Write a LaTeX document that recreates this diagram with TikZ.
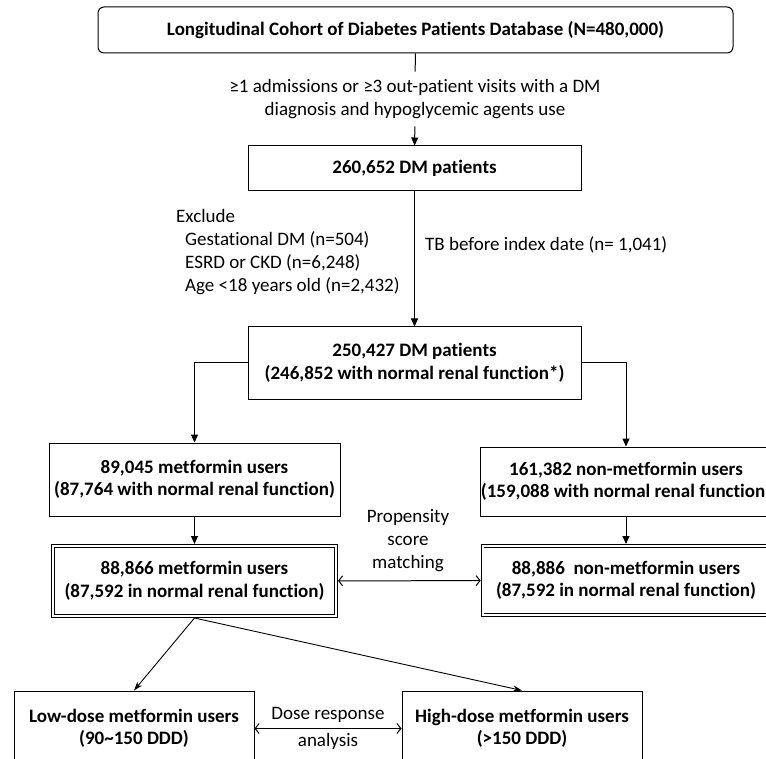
\documentclass[tikz,border=0pt]{standalone}
\usepackage{fontspec}
\setmainfont[Ligatures=NoCommon]{Carlito}
\usetikzlibrary{arrows.meta,positioning}

\tikzset{
  box/.style={draw, line width=1pt, align=center, font=\fontsize{19}{22.5}\selectfont\bfseries, inner sep=0pt},
  dbox/.style={box, double, double distance=2pt, line width=0.8pt, outer sep=1.8pt},
  note/.style={align=center, inner sep=0pt},
  arr/.style={line width=1pt, -{Triangle[length=8pt,width=7pt]}},
  darr/.style={line width=1pt, {Straight Barb[length=4pt,width=10pt]}-{Straight Barb[length=4pt,width=10pt]}},
  diag/.style={line width=0.9pt, -{Stealth[length=9pt,width=6pt]}},
}

\begin{document}
\begin{tikzpicture}[x=1pt, y=-1pt, font=\fontsize{19}{22.5}\selectfont]
  \useasboundingbox (0,0) rectangle (766,759);
  \fill[white] (0,0) rectangle (766,759);
  \clip (0,0) rectangle (766,759);

  % selection of the cohort
  \node[box, rounded corners=6pt, minimum width=635pt, minimum height=46pt] (db) at (415.5,30)
    {Longitudinal Cohort of Diabetes Patients Database (N=480,000)};
  \node[note, outer sep=8pt] (crit) at (415,99)
    {≥1 admissions or ≥3 out-patient visits with a DM\\diagnosis and hypoglycemic agents use};
  \node[box, minimum width=333pt, minimum height=45pt] (dm1) at (414.5,168.5) {260,652 DM patients};
  \node[box, minimum width=333pt, minimum height=72pt] (dm2) at (414.5,363)
    {250,427 DM patients\\(246,852 with normal renal function*)};

  % exclusions
  \node[note, align=left, anchor=west, font=\fontsize{19}{23}\selectfont] (excl) at (176,252.5)
    {Exclude\\\hspace*{9pt}Gestational DM (n=504)\\\hspace*{9pt}ESRD or CKD (n=6,248)\\\hspace*{9pt}Age <18 years old (n=2,432)};
  \node[note, anchor=west] (tb) at (425,245) {TB before index date (n= 1,041)};

  % metformin / non-metformin
  \node[box, minimum width=291pt, minimum height=73pt] (met) at (194.5,479.5)
    {89,045 metformin users\\(87,764 with normal renal function)};
  \node[box, minimum width=290pt, minimum height=69pt] (nonmet) at (626,481.5)
    {161,382 non-metformin users\\(159,088 with normal renal function)};
  \node[dbox, minimum width=283.4pt, minimum height=70.4pt] (psmL) at (194.5,581)
    {88,866 metformin users\\(87,592 in normal renal function)};
  \node[dbox, minimum width=287pt, minimum height=69.4pt] (psmR) at (626,580.5)
    {88,886~ non-metformin users\\(87,592 in normal renal function)};
  \node[note, font=\fontsize{19}{23}\selectfont] (psm) at (408,541) {Propensity\\score\\matching};

  % dose groups
  \node[box, minimum width=240pt, minimum height=75pt] (low) at (134,728.5)
    {Low-dose metformin users\\(90\textasciitilde150 DDD)};
  \node[box, minimum width=240pt, minimum height=75pt] (high) at (522,728.5)
    {High-dose metformin users\\(>150 DDD)};

  \draw[line width=1pt] (db) -- (crit);
  \draw[arr] (crit) -- (dm1);
  \draw[arr] (dm1) -- (dm2);
  \draw[arr] (dm2.west) -| (met.north);
  \draw[arr] (dm2.east) -| (nonmet.north);
  \draw[arr] (met) -- (psmL);
  \draw[arr] (nonmet) -- (psmR);
  \draw[darr] (psmL) -- (psmR);
  \draw[diag] (psmL.south) -- (low.north);
  \draw[diag] (psmL.south) -- (high.north);
  \draw[darr] (low) -- node[note, above=5pt] {Dose response} node[note, below=4pt] {analysis} (high);
\end{tikzpicture}
\end{document}
